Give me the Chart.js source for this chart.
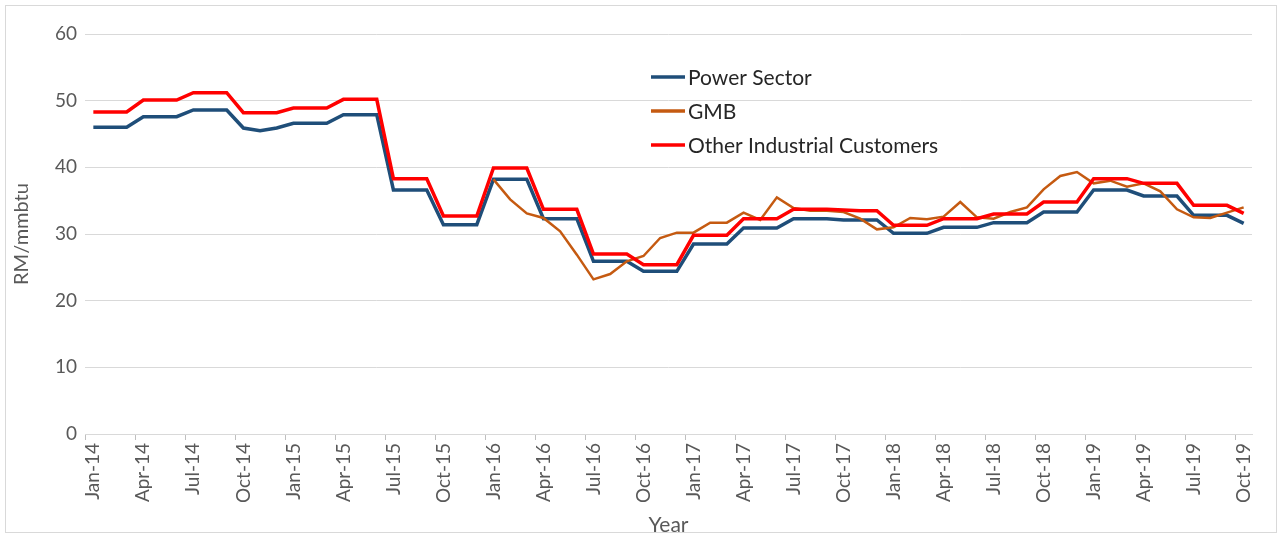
<!DOCTYPE html>
<html>
<head>
<meta charset="utf-8">
<script src="https://cdn.jsdelivr.net/npm/chart.js@4.4.1/dist/chart.umd.min.js"></script>
<style>
html, body { margin: 0; padding: 0; background: #fff; }
</style>
</head>
<body>
<canvas id="priceChart" width="1282" height="538"></canvas>
<script>
const months = [
    'Jan-14','Feb-14','Mar-14','Apr-14','May-14','Jun-14','Jul-14','Aug-14','Sep-14','Oct-14','Nov-14','Dec-14',
    'Jan-15','Feb-15','Mar-15','Apr-15','May-15','Jun-15','Jul-15','Aug-15','Sep-15','Oct-15','Nov-15','Dec-15',
    'Jan-16','Feb-16','Mar-16','Apr-16','May-16','Jun-16','Jul-16','Aug-16','Sep-16','Oct-16','Nov-16','Dec-16',
    'Jan-17','Feb-17','Mar-17','Apr-17','May-17','Jun-17','Jul-17','Aug-17','Sep-17','Oct-17','Nov-17','Dec-17',
    'Jan-18','Feb-18','Mar-18','Apr-18','May-18','Jun-18','Jul-18','Aug-18','Sep-18','Oct-18','Nov-18','Dec-18',
    'Jan-19','Feb-19','Mar-19','Apr-19','May-19','Jun-19','Jul-19','Aug-19','Sep-19','Oct-19'
];

const powerSector = [
    46.0, 46.0, 46.0, 47.6, 47.6, 47.6, 48.6, 48.6, 48.6, 45.9, 45.5, 45.9,
    46.6, 46.6, 46.6, 47.9, 47.9, 47.9, 36.6, 36.6, 36.6, 31.4, 31.4, 31.4,
    38.2, 38.2, 38.2, 32.3, 32.3, 32.3, 25.9, 25.9, 25.9, 24.4, 24.4, 24.4,
    28.5, 28.5, 28.5, 30.9, 30.9, 30.9, 32.3, 32.3, 32.3, 32.1, 32.1, 32.1,
    30.1, 30.1, 30.1, 31.0, 31.0, 31.0, 31.7, 31.7, 31.7, 33.3, 33.3, 33.3,
    36.6, 36.6, 36.6, 35.7, 35.7, 35.7, 32.8, 32.8, 32.8, 31.6
];

const gmb = [
    null, null, null, null, null, null, null, null, null, null, null, null,
    null, null, null, null, null, null, null, null, null, null, null, null,
    38.2, 35.2, 33.1, 32.4, 30.4, 26.9, 23.2, 24.0, 25.9, 26.7, 29.4, 30.2,
    30.2, 31.7, 31.7, 33.2, 32.1, 35.5, 33.9, 33.5, 33.5, 33.3, 32.3, 30.7,
    31.0, 32.4, 32.2, 32.6, 34.8, 32.5, 32.3, 33.3, 34.0, 36.7, 38.7, 39.3,
    37.6, 38.0, 37.1, 37.6, 36.4, 33.7, 32.5, 32.4, 33.2, 34.0
];

const otherIndustrial = [
    48.3, 48.3, 48.3, 50.1, 50.1, 50.1, 51.2, 51.2, 51.2, 48.2, 48.2, 48.2,
    48.9, 48.9, 48.9, 50.2, 50.2, 50.2, 38.3, 38.3, 38.3, 32.7, 32.7, 32.7,
    39.9, 39.9, 39.9, 33.7, 33.7, 33.7, 27.0, 27.0, 27.0, 25.4, 25.4, 25.4,
    29.8, 29.8, 29.8, 32.3, 32.3, 32.3, 33.7, 33.7, 33.7, 33.6, 33.5, 33.5,
    31.3, 31.3, 31.3, 32.3, 32.3, 32.3, 33.0, 33.0, 33.0, 34.8, 34.8, 34.8,
    38.3, 38.3, 38.3, 37.6, 37.6, 37.6, 34.3, 34.3, 34.3, 33.1
];

const fontName = 'Lato';
const axisGrey = '#595959';

// frame round the whole picture, like the spreadsheet chart border
const chartFrame = {
    id: 'chartFrame',
    beforeDraw(chart) {
        const ctx = chart.ctx;
        ctx.save();
        ctx.fillStyle = '#ffffff';
        ctx.fillRect(0, 0, chart.width, chart.height);
        ctx.strokeStyle = '#d9d9d9';
        ctx.lineWidth = 1;
        ctx.strokeRect(5.5, 5.5, chart.width - 11, chart.height - 11);
        ctx.restore();
    }
};

// legend drawn inside the plot area
const insideLegend = {
    id: 'insideLegend',
    afterDatasetsDraw(chart) {
        const ctx = chart.ctx;
        const x0 = 651, y0 = 77, gap = 34;
        ctx.save();
        ctx.font = '21px ' + fontName;
        ctx.textBaseline = 'middle';
        chart.data.datasets.forEach(function(ds, i) {
            const y = y0 + i * gap;
            ctx.strokeStyle = ds.borderColor;
            ctx.lineWidth = 3.5;
            ctx.beginPath();
            ctx.moveTo(x0, y);
            ctx.lineTo(x0 + 34, y);
            ctx.stroke();
            ctx.fillStyle = '#262626';
            ctx.fillText(ds.label, x0 + 37, y + 1);
        });
        ctx.restore();
    }
};

const canvas = document.getElementById('priceChart');
new Chart(canvas, {
    type: 'line',
    data: {
        labels: months,
        datasets: [{
            label: 'Power Sector',
            data: powerSector,
            borderColor: '#1f4e79',
            borderWidth: 3.5,
            order: 2,
        },
        {
            label: 'GMB',
            data: gmb,
            borderColor: '#c55a11',
            borderWidth: 2.5,
            order: 1,
        },
        {
            label: 'Other Industrial Customers',
            data: otherIndustrial,
            borderColor: '#ff0000',
            borderWidth: 3.5,
            order: 0,
        }]
    },
    options: {
        responsive: false,
        animation: false,
        devicePixelRatio: 1,
        elements: {
            point: { radius: 0 },
            line: { tension: 0 }
        },
        layout: {
            padding: { left: 10, right: 30, top: 34, bottom: 0 }
        },
        plugins: {
            legend: { display: false },
            tooltip: { enabled: false }
        },
        scales: {
            x: {
                offset: true,
                grid: {
                    offset: true,
                    drawOnChartArea: false,
                    tickLength: 6,
                    color: function(c) { return c.index % 3 === 0 ? '#bfbfbf' : 'rgba(0,0,0,0)'; }
                },
                border: { color: '#d9d9d9' },
                ticks: {
                    autoSkip: false,
                    minRotation: 90,
                    maxRotation: 90,
                    padding: 3,
                    color: axisGrey,
                    font: { family: fontName, size: 19 },
                    callback: function(val, idx) {
                        return idx % 3 === 0 ? this.getLabelForValue(val) : '';
                    }
                },
                title: {
                    display: true,
                    text: 'Year',
                    color: axisGrey,
                    font: { family: fontName, size: 21 },
                    padding: { top: 0, bottom: 0 }
                },
                afterFit: function(scale) { scale.height = 104; }
            },
            y: {
                min: 0,
                max: 60,
                ticks: {
                    stepSize: 10,
                    padding: 8,
                    color: axisGrey,
                    font: { family: fontName, size: 19 }
                },
                grid: {
                    color: '#d9d9d9',
                    drawTicks: false
                },
                border: { display: false },
                title: {
                    display: true,
                    text: 'RM/mmbtu',
                    color: axisGrey,
                    font: { family: fontName, size: 20 },
                    padding: 0
                },
                afterFit: function(scale) { scale.width = 75; }
            }
        }
    },
    plugins: [chartFrame, insideLegend]
});
</script>
</body>
</html>
